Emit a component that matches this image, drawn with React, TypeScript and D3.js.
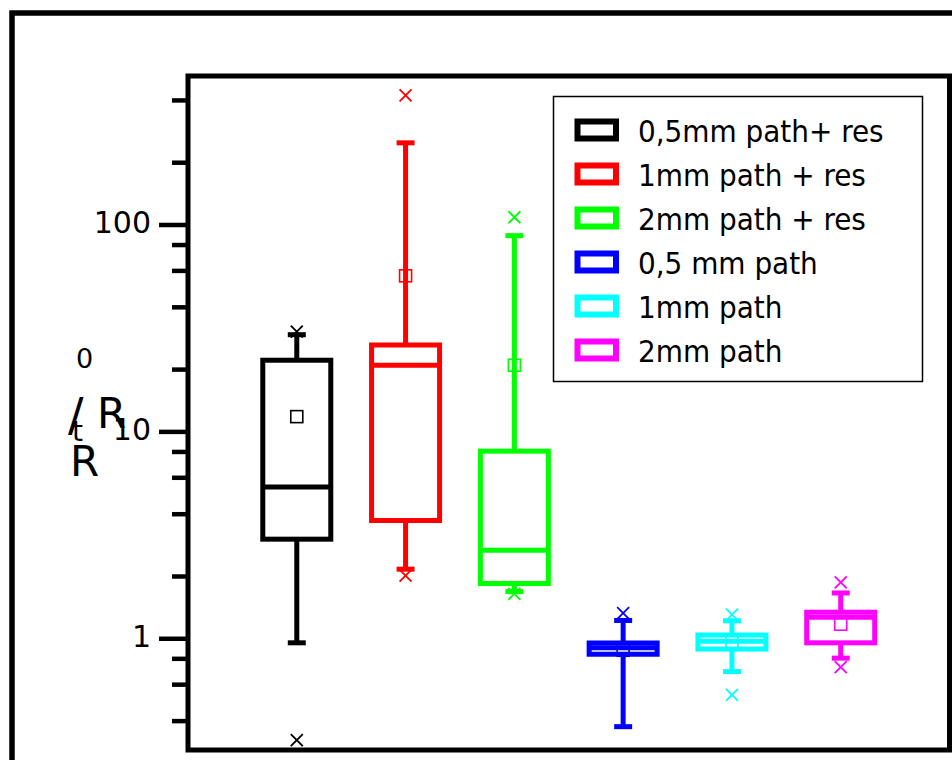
import React from "react";
import * as d3 from "d3";

const categories = ["0,5mm path+ res", "1mm path + res", "2mm path + res", "0,5 mm path", "1mm path", "2mm path"];
const colors = ["#000000", "#ff0000", "#00ff00", "#0000ff", "#00ffff", "#ff00ff"];
const q1 = [3.03, 3.73, 1.85, 0.842, 0.892, 0.956];
const median = [5.42, 21.0, 2.68, 0.905, 0.972, 1.27];
const q3 = [22.2, 26.3, 8.07, 0.954, 1.043, 1.344];
const whiskerLow = [0.956, 2.17, 1.69, 0.376, 0.694, 0.806];
const whiskerHigh = [29.5, 249.5, 88.8, 1.226, 1.222, 1.665];
const means = [11.85, 56.8, 21.0, 0.88, 0.967, 1.176];
const outlierMax = [30.5, 423, 109, 1.332, 1.307, 1.873];
const outlierMin: (number | null)[] = [0.324, 2.02, 1.65, null, 0.536, 0.73];
const majorTicks = [1, 10, 100];
const minorTicks = [0.4, 0.6, 0.8, 2, 4, 6, 8, 20, 40, 60, 80, 200, 400];
const yDomain = [0.29, 525];

const W = 952, H = 760;
const plotLeft = 188, plotRight = 949.5, plotTop = 76, plotBottom = 750;

export default function App() {
  const y = d3.scaleLog().domain(yDomain).range([plotBottom, plotTop]);
  const x = d3.scalePoint<string>().domain(categories).range([plotLeft, plotRight]).padding(1);
  const boxW = 68;
  const capW = 18;
  const lw = 5;
  const xm = 6;

  const cross = (cx: number, cy: number, c: string, k: string) => (
    <g key={k} stroke={c} strokeWidth={1.8}>
      <line x1={cx - xm} y1={cy - xm} x2={cx + xm} y2={cy + xm} />
      <line x1={cx - xm} y1={cy + xm} x2={cx + xm} y2={cy - xm} />
    </g>
  );

  return (
    <svg width={W} height={H} style={{ position: "absolute", left: 0, top: 0, background: "#fff" }}
      fontFamily="DejaVu Sans, Verdana, sans-serif">
      <rect x={0} y={0} width={W} height={H} fill="#fff" />
      {/* outer frame */}
      <rect x={12} y={13} width={1000} height={800} fill="none" stroke="#000" strokeWidth={5.5} />
      {/* plot frame */}
      <rect x={plotLeft} y={plotTop} width={plotRight - plotLeft} height={plotBottom - plotTop} fill="none" stroke="#000" strokeWidth={5} />

      {/* y ticks */}
      {majorTicks.map((t) => (
        <g key={"M" + t}>
          <line x1={plotLeft - 29} x2={plotLeft} y1={y(t)} y2={y(t)} stroke="#000" strokeWidth={4.5} />
          <text x={151} y={y(t) + 8} textAnchor="end" fontSize={30} fill="#000">{d3.format("d")(t)}</text>
        </g>
      ))}
      {minorTicks.map((t) => (
        <line key={"m" + t} x1={plotLeft - 16} x2={plotLeft} y1={y(t)} y2={y(t)} stroke="#000" strokeWidth={4.5} />
      ))}

      {/* y label (as rendered in the reference) */}
      <g fill="#000">
        <text x={76} y={368} fontSize={27}>0</text>
        <text x={68} y={431} fontSize={46}>/</text>
        <text x={97} y={428} fontSize={42}>R</text>
        <text x={72} y={441} fontSize={28}>t</text>
        <text x={70} y={476} fontSize={42}>R</text>
      </g>

      {/* boxes */}
      {categories.map((c, i) => {
        const cx = x(c) as number;
        const col = colors[i];
        return (
          <g key={c}>
            <line x1={cx} x2={cx} y1={y(whiskerLow[i])} y2={y(q1[i])} stroke={col} strokeWidth={lw} />
            <line x1={cx} x2={cx} y1={y(q3[i])} y2={y(whiskerHigh[i])} stroke={col} strokeWidth={lw} />
            <rect x={cx - boxW / 2} y={y(q3[i])} width={boxW} height={y(q1[i]) - y(q3[i])} fill="none" stroke={col} strokeWidth={lw} />
            <line x1={cx - boxW / 2} x2={cx + boxW / 2} y1={y(median[i])} y2={y(median[i])} stroke={col} strokeWidth={lw} />
            <line x1={cx - capW / 2} x2={cx + capW / 2} y1={y(whiskerLow[i])} y2={y(whiskerLow[i])} stroke={col} strokeWidth={lw} />
            <line x1={cx - capW / 2} x2={cx + capW / 2} y1={y(whiskerHigh[i])} y2={y(whiskerHigh[i])} stroke={col} strokeWidth={lw} />
            <rect x={cx - 6} y={y(means[i]) - 6} width={12} height={12} fill="none" stroke={col} strokeWidth={1.6} />
            {cross(cx, y(outlierMax[i]), col, "omax")}
            {outlierMin[i] != null ? cross(cx, y(outlierMin[i] as number), col, "omin") : null}
          </g>
        );
      })}

      {/* legend */}
      <rect x={553.5} y={96.5} width={369} height={285} fill="#fff" stroke="#000" strokeWidth={1.5} />
      {categories.map((c, i) => {
        const cy = 130 + 44 * i;
        return (
          <g key={"lg" + c}>
            <rect x={577.5} y={cy - 8.5} width={38.5} height={17} fill="none" stroke={colors[i]} strokeWidth={6} />
            <text x={638} y={cy + 11.5} fontSize={31} fontFamily="DejaVu Sans Condensed, DejaVu Sans" style={{ fontStretch: "condensed" }} fill="#000">{c}</text>
          </g>
        );
      })}
    </svg>
  );
}
